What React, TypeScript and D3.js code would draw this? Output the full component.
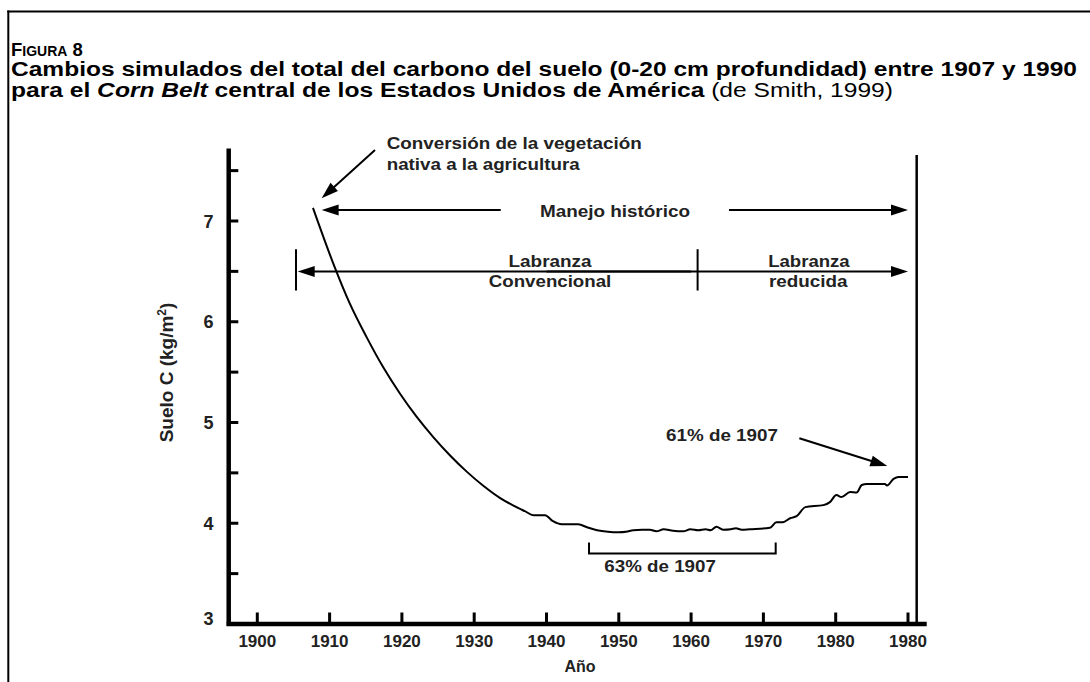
import React from "react";
import * as d3 from "d3";

// ---- data ----
const years = [1907.7, 1910.5, 1912.8, 1915.1, 1917.4, 1919.7, 1922, 1924.4, 1926.7, 1929, 1931.3, 1933.6, 1935.3, 1937.0, 1938.2, 1939.8, 1940.9, 1942.1, 1944.4, 1945.6, 1947, 1948.5, 1950, 1951, 1952, 1953.2, 1954.3, 1955.2, 1956.2, 1957.5, 1958.9, 1959.9, 1961, 1962, 1962.7, 1963.5, 1964.5, 1965.5, 1966.2, 1967, 1968.1, 1970.9, 1971.8, 1972.7, 1973.7, 1974.6, 1975.8, 1978.3, 1979.2, 1980.1, 1980.8, 1982, 1982.9, 1983.6, 1984.3, 1986.8, 1987.1, 1988, 1988.7, 1990];
const soilC = [7.13, 6.58, 6.18, 5.85, 5.55, 5.29, 5.06, 4.85, 4.67, 4.51, 4.37, 4.25, 4.18, 4.12, 4.08, 4.08, 4.02, 3.99, 3.99, 3.96, 3.93, 3.915, 3.91, 3.915, 3.93, 3.935, 3.935, 3.92, 3.94, 3.925, 3.92, 3.94, 3.93, 3.94, 3.93, 3.965, 3.935, 3.94, 3.95, 3.935, 3.94, 3.955, 4.01, 4.01, 4.05, 4.07, 4.16, 4.18, 4.21, 4.28, 4.26, 4.31, 4.305, 4.38, 4.39, 4.39, 4.375, 4.44, 4.46, 4.46];
const xTicks = [1900, 1910, 1920, 1930, 1940, 1950, 1960, 1970, 1980, 1990];
const xTickLabels = ["1900", "1910", "1920", "1930", "1940", "1950", "1960", "1970", "1980", "1980"];
const yMajorTicks = [3, 4, 5, 6, 7];
const yMinorTicks = [3.5, 4.5, 5.5, 6.5, 7.5];

const figLabel = "8";
const titleLine2 = "Cambios simulados del total del carbono del suelo (0-20 cm profundidad) entre 1907 y 1990";
const yTitle = "Suelo C (kg/m";
const xTitle = "Año";

const W = 1090;
const H = 682;
const x = d3.scaleLinear().domain([1900, 1990]).range([257.3, 908]);
const y = d3.scaleLinear().domain([3, 7]).range([624, 221]);

const FONT = "'Liberation Sans', Arial, Helvetica, sans-serif";
const TXT = "#222";

function Arrow({ x1, y1, x2, y2, head = 17, half = 5.5, sw = 2 }: any) {
  const dx = x2 - x1, dy = y2 - y1;
  const len = Math.hypot(dx, dy);
  const ux = dx / len, uy = dy / len;
  const bx = x2 - ux * head, by = y2 - uy * head;
  const px = -uy * half, py = ux * half;
  return (
    <g>
      <line x1={x1} y1={y1} x2={bx + ux * 2} y2={by + uy * 2} stroke="#000" strokeWidth={sw} />
      <polygon points={`${x2},${y2} ${bx + px},${by + py} ${bx - px},${by - py}`} fill="#000" />
    </g>
  );
}

export default function App() {
  const line = d3
    .line<number>()
    .x((_, i) => x(years[i]))
    .y((d) => y(d))
    .curve(d3.curveMonotoneX);
  const path = line(soilC) || "";

  const axisLeft = x.range()[0] - 28.6;
  const axisRight = x(1990) + 18.7;
  const yTop = y(7.72);

  return (
    <svg width={W} height={H} style={{ position: "absolute", left: 0, top: 0, background: "#fff" }} fontFamily={FONT}>
      {/* frame */}
      <line x1={7.3} y1={11.5} x2={W} y2={11.5} stroke="#000" strokeWidth={2} />
      <line x1={8.3} y1={10.5} x2={8.3} y2={H} stroke="#000" strokeWidth={2} />

      {/* titles */}
      <text x={11} y={55.5} fontWeight="bold" fill="#000">
        <tspan fontSize={18.5}>F</tspan>
        <tspan fontSize={14}>IGURA</tspan>
        <tspan fontSize={18.5}> {figLabel}</tspan>
      </text>
      <text x={11} y={76} fontWeight="bold" fontSize={20} fill="#000" textLength={1066} lengthAdjust="spacingAndGlyphs">
        {titleLine2}
      </text>
      <text x={11} y={97} fontSize={20} fill="#000" textLength={882} lengthAdjust="spacingAndGlyphs">
        <tspan fontWeight="bold">para el </tspan>
        <tspan fontWeight="bold" fontStyle="italic">Corn Belt</tspan>
        <tspan fontWeight="bold"> central de los Estados Unidos de América</tspan>
        <tspan> (de Smith, 1999)</tspan>
      </text>

      {/* axes */}
      <line x1={axisLeft} y1={yTop} x2={axisLeft} y2={y(3) + 2} stroke="#000" strokeWidth={4.5} />
      <line x1={axisLeft - 2} y1={y(3)} x2={axisRight} y2={y(3)} stroke="#000" strokeWidth={4.5} />
      {yMajorTicks.concat(yMinorTicks).map((t) => (
        <line key={"yt" + t} x1={axisLeft} y1={y(t)} x2={axisLeft + 9.6} y2={y(t)} stroke="#000" strokeWidth={3} />
      ))}
      {yMajorTicks.map((t, i) => (
        <text key={"yl" + t} x={213.5} y={y(t) + (i === 0 ? 1 : 6.5)} textAnchor="end" fontWeight="bold" fontSize={18} fill={TXT}>
          {t}
        </text>
      ))}
      {xTicks.map((t) => (
        <line key={"xt" + t} x1={x(t)} y1={y(3)} x2={x(t)} y2={y(3) - 11.5} stroke="#000" strokeWidth={3} />
      ))}
      {xTicks.map((t, i) => (
        <text key={"xl" + t} x={x(t)} y={646.5} textAnchor="middle" fontWeight="bold" fontSize={17} fill={TXT}>
          {xTickLabels[i]}
        </text>
      ))}
      <text x={580} y={671.5} textAnchor="middle" fontWeight="bold" fontSize={16} fill={TXT}>
        {xTitle}
      </text>
      <text transform={`translate(172.5,372.5) rotate(-90)`} textAnchor="middle" fontWeight="bold" fontSize={19} fill={TXT}>
        {yTitle}
        <tspan fontSize={12} dy={-7}>2</tspan>
        <tspan dy={7}>)</tspan>
      </text>

      {/* right boundary line */}
      <line x1={x(1991.2)} y1={y(7.655)} x2={x(1991.2)} y2={y(3)} stroke="#000" strokeWidth={2.5} />

      {/* data curve */}
      <path d={path} fill="none" stroke="#000" strokeWidth={2} strokeLinejoin="round" />

      {/* annotations */}
      <Arrow x1={x(1916.28)} y1={y(7.705)} x2={x(1908.9)} y2={y(7.225)} />
      <text x={x(1917.9)} y={y(7.712)} fontWeight="bold" fontSize={16} fill={TXT} textLength={255} lengthAdjust="spacingAndGlyphs">
        Conversión de la vegetación
      </text>
      <text x={x(1917.9)} y={y(7.506)} fontWeight="bold" fontSize={16} fill={TXT} textLength={193} lengthAdjust="spacingAndGlyphs">
        nativa a la agricultura
      </text>

      <Arrow x1={x(1933.67)} y1={y(7.11)} x2={x(1908.9)} y2={y(7.11)} />
      <Arrow x1={x(1965.24)} y1={y(7.11)} x2={x(1990)} y2={y(7.11)} />
      <text x={x(1949.47)} y={y(7.035)} textAnchor="middle" fontWeight="bold" fontSize={16.5} fill={TXT} textLength={150} lengthAdjust="spacingAndGlyphs">
        Manejo histórico
      </text>

      <Arrow x1={x(1960)} y1={y(6.5)} x2={x(1905.59)} y2={y(6.5)} />
      <Arrow x1={x(1940)} y1={y(6.5)} x2={x(1990)} y2={y(6.5)} />
      <line x1={x(1905.35)} y1={y(6.72)} x2={x(1905.35)} y2={y(6.31)} stroke="#000" strokeWidth={2} />
      <line x1={x(1960.9)} y1={y(6.72)} x2={x(1960.9)} y2={y(6.31)} stroke="#000" strokeWidth={2} />
      <text x={x(1940.49)} y={y(6.546)} textAnchor="middle" fontWeight="bold" fontSize={16.5} fill={TXT} textLength={83} lengthAdjust="spacingAndGlyphs">
        Labranza
      </text>
      <text x={x(1940.49)} y={y(6.348)} textAnchor="middle" fontWeight="bold" fontSize={16.5} fill={TXT} textLength={122.5} lengthAdjust="spacingAndGlyphs">
        Convencional
      </text>
      <text x={x(1976.3)} y={y(6.546)} textAnchor="middle" fontWeight="bold" fontSize={16.5} fill={TXT} textLength={81.5} lengthAdjust="spacingAndGlyphs">
        Labranza
      </text>
      <text x={x(1976.2)} y={y(6.348)} textAnchor="middle" fontWeight="bold" fontSize={16.5} fill={TXT} textLength={78.5} lengthAdjust="spacingAndGlyphs">
        reducida
      </text>

      <Arrow x1={x(1974.97)} y1={y(4.843)} x2={x(1987.14)} y2={y(4.568)} />
      <text x={x(1956.53)} y={y(4.819)} fontWeight="bold" fontSize={16.5} fill={TXT} textLength={112} lengthAdjust="spacingAndGlyphs">
        61% de 1907
      </text>

      <path
        d={`M${x(1945.88)},${y(3.81)} V${y(3.7)} H${x(1971.7)} V${y(3.81)}`}
        fill="none"
        stroke="#000"
        strokeWidth={2}
      />
      <text x={x(1948.0)} y={y(3.513)} fontWeight="bold" fontSize={16.5} fill={TXT} textLength={111.5} lengthAdjust="spacingAndGlyphs">
        63% de 1907
      </text>
    </svg>
  );
}
